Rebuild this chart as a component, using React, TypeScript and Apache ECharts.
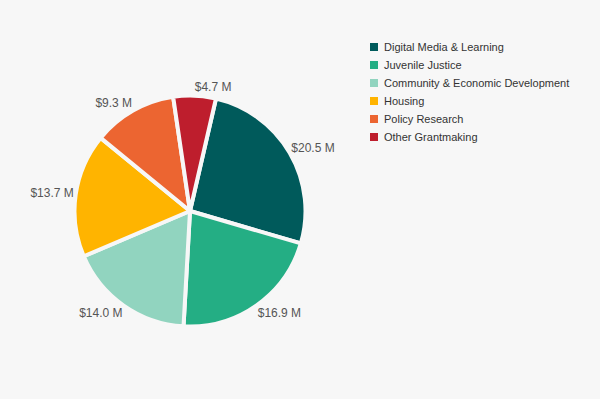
import React, { useEffect, useRef } from "react";
import * as echarts from "echarts";

const categories = [
  "Digital Media & Learning",
  "Juvenile Justice",
  "Community & Economic Development",
  "Housing",
  "Policy Research",
  "Other Grantmaking",
];
const values = [20.5, 16.9, 14.0, 13.7, 9.3, 4.7];
const colors = ["#005a5b", "#24ae84", "#91d4bf", "#ffb400", "#ec6531", "#be1e2d"];

export default function App() {
  const ref = useRef<HTMLDivElement>(null);
  useEffect(() => {
    const chart = echarts.init(ref.current!, null, { renderer: "svg" });
    const data = categories.map((c, i) => ({ name: c, value: values[i] }));
    const cx = 190;
    chart.setOption({
      animation: false,
      backgroundColor: "#f7f7f7",
      color: colors,
      textStyle: { fontFamily: "Liberation Sans, Arial, sans-serif" },
      legend: {
        orient: "vertical",
        left: 363,
        top: 36,
        itemWidth: 10,
        itemHeight: 10,
        itemGap: 6,
        icon: "rect",
        textStyle: { fontSize: 11, color: "#333" },
        data: categories,
      },
      series: [
        {
          type: "pie",
          center: [cx, 211],
          radius: 115.5,
          startAngle: 77,
          data,
          itemStyle: { borderColor: "#f7f7f7", borderWidth: 4 },
          label: {
            show: true,
            position: "outside",
            distanceToLabelLine: 0,
            formatter: (p: any) => "$" + p.value.toFixed(1) + " M",
            fontSize: 12,
            color: "#555",
          },
          labelLine: { show: false, length: 9, length2: 0 },
          labelLayout: (params: any) => {
            const r = params.labelRect;
            const isRight = r.x + r.width / 2 > cx;
            const anchor = isRight ? r.x : r.x + r.width;
            const f = Math.max(-1, Math.min(1, (anchor - cx) / 123));
            return { dx: -f * 7 };
          },
        },
      ],
    });
    return () => chart.dispose();
  }, []);
  return <div ref={ref} style={{ width: 600, height: 399, position: "absolute", left: 0, top: 0 }} />;
}
